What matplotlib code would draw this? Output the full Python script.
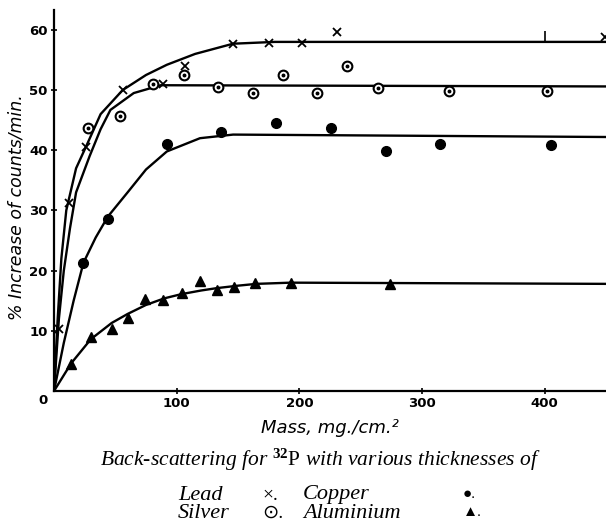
import numpy as np
import matplotlib
matplotlib.use('Agg')
from matplotlib import pyplot as plt

plt.rcParams['mathtext.fontset'] = 'custom'
plt.rcParams['mathtext.rm'] = 'Liberation Serif'
plt.rcParams['mathtext.bf'] = 'Liberation Serif:bold'
plt.rcParams['mathtext.it'] = 'Liberation Serif:italic'

# measured points (mass mg/cm2, % increase)
lead_x = [4, 12, 26, 56, 89, 107, 146, 175, 202, 231, 449]
lead_y = [10.3, 31.3, 40.5, 50.0, 51.0, 54.0, 57.7, 57.8, 57.9, 59.7, 58.8]
lead_bar_x = [400]
lead_bar_y = [58.8]
silver_x = [28, 54, 81, 106, 134, 162, 187, 214, 239, 264, 322, 402]
silver_y = [43.7, 45.7, 51.0, 52.5, 50.5, 49.5, 52.5, 49.5, 54.0, 50.3, 49.9, 49.9]
copper_x = [24, 44, 92, 136, 181, 226, 271, 315, 405]
copper_y = [21.3, 28.5, 41.0, 43.0, 44.5, 43.7, 39.9, 41.1, 40.8]
alu_x = [14, 30, 47, 60, 74, 89, 104, 119, 133, 147, 164, 193, 274]
alu_y = [4.5, 8.9, 10.3, 12.2, 15.3, 15.2, 16.2, 18.2, 16.8, 17.3, 18.0, 18.0, 17.8]

# hand drawn curves
lead_cx = [0, 3, 6, 10, 18, 27, 38, 56, 75, 92, 115, 146, 180, 450]
lead_cy = [0, 12, 22, 30, 37, 41, 46, 50, 52.5, 54.2, 56, 57.7, 58, 58]
silver_cx = [0, 4, 8, 13, 18, 29, 38, 46, 65, 87, 450]
silver_cy = [0, 12, 20, 27, 33, 39, 43.5, 46.7, 49.5, 50.8, 50.6]
copper_cx = [0, 8, 16, 24, 34, 44, 60, 75, 92, 119, 146, 450]
copper_cy = [0, 8, 15, 21.3, 25.5, 29, 33, 36.8, 39.8, 42, 42.6, 42.2]
alu_cx = [0, 14, 30, 47, 60, 75, 90, 104, 120, 133, 150, 165, 193, 450]
alu_cy = [0, 4.6, 8.6, 11.3, 12.8, 14.3, 15.4, 16.1, 16.7, 17.1, 17.5, 17.8, 18, 17.8]

fig = plt.figure(figsize=(6.06, 5.25), dpi=100)
ax = fig.add_axes([54/606, 134/525, 552/606, 381/525])

for cx, cy in [(lead_cx, lead_cy), (silver_cx, silver_cy),
               (copper_cx, copper_cy), (alu_cx, alu_cy)]:
    ax.plot(cx, cy, color='black', lw=1.7, solid_joinstyle='round')

ax.plot(lead_x, lead_y, 'x', color='black', ms=6, mew=1.3)
ax.plot(lead_bar_x, lead_bar_y, '|', color='black', ms=8, mew=1.2)
ax.plot(silver_x, silver_y, 'o', mfc='white', mec='black', ms=7, mew=1.5)
ax.plot(silver_x, silver_y, 'o', color='black', ms=1.8)
ax.plot(copper_x, copper_y, 'o', color='black', ms=7)
ax.plot(alu_x, alu_y, '^', color='black', ms=6.5)

ax.set_xlim(0, 450)
ax.set_ylim(0, 63.3)
ax.set_xticks([100, 200, 300, 400])
ax.set_yticks([10, 20, 30, 40, 50, 60])
ax.tick_params(direction='inout', length=5, width=1.2, labelsize=9.5, pad=2)
for lab in ax.get_xticklabels() + ax.get_yticklabels():
    lab.set_fontweight('bold')
for s in ['top', 'right']:
    ax.spines[s].set_visible(False)
for s in ['left', 'bottom']:
    ax.spines[s].set_linewidth(1.6)

fig.text(43/606, 1 - 401/525, '0', ha='center', va='center', fontsize=9.5, fontweight='bold')
fig.text(17/606, 1 - 207/525, '% Increase of counts/min.', rotation=90,
         ha='center', va='center', fontsize=12.5, style='italic')
fig.text(330/606, 1 - 428/525, 'Mass, mg./cm.\u00b2', ha='center', va='center',
         fontsize=13, style='italic')

fig.text(320/606, 1 - 460/525, 'Back-scattering for $^{\\mathbf{32}}\\mathrm{P}$ with various thicknesses of',
         ha='center', va='center', fontsize=15.5, style='italic', family='Liberation Serif')

serif = ['Liberation Serif', 'DejaVu Sans']
rows = [(495, 'Lead', '\u00d7.', 'Copper', '\u25cf.'),
        (513, 'Silver', '\u2299.', 'Aluminium', '\u25b2.')]
for yy, n1, s1, n2, s2 in rows:
    fig.text(178/606, 1 - yy/525, n1, va='center', fontsize=16, style='italic', family=serif)
    fig.text(262/606, 1 - yy/525, s1, va='center', fontsize=14, family=serif)
    fig.text(303/606, 1 - yy/525, n2, va='center', fontsize=16, style='italic', family=serif)
    fig.text(463/606, 1 - yy/525, s2, va='center', fontsize=11, family=serif)

fig.savefig('out.png', dpi=100)
